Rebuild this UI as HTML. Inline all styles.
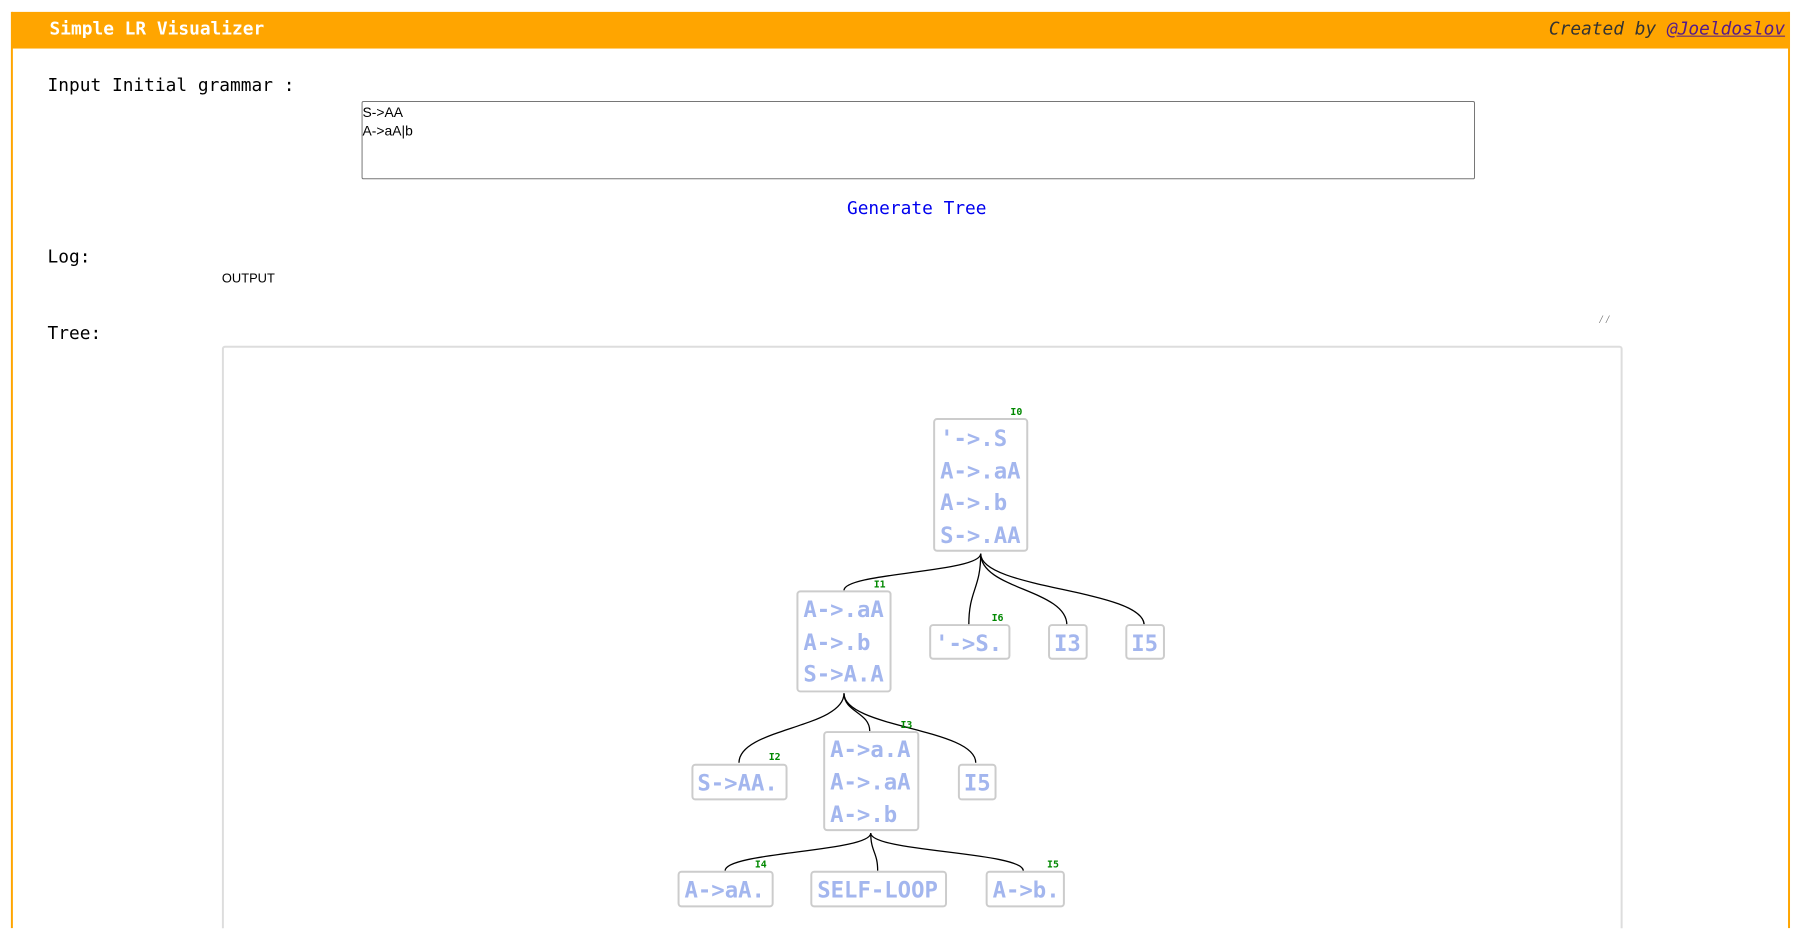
<!DOCTYPE html>
<html style="height:929px;overflow:hidden"><head><meta charset="utf-8"><style>
html,body{margin:0;width:1816px;height:929px;overflow:hidden}
body{background:#fff;font-family:"DejaVu Sans Mono","Liberation Mono",monospace;position:relative}
.a{position:absolute;white-space:nowrap}
#w{position:absolute;left:0;top:0;width:1833px;height:937px;overflow:hidden;transform:scale(0.9906);transform-origin:0 0}
</style></head><body><div id="w">
<div class="a" style="left:12px;top:12px;width:1795px;height:37px;background:#ffa500"></div>
<div class="a" style="left:11px;top:12px;width:2px;height:925px;background:#ffa500"></div>
<div class="a" style="left:1805px;top:12px;width:2px;height:925px;background:#ffa500"></div>
<div class="a" style="left:50px;top:19px;color:#fff;font-weight:bold;font-size:18px">Simple LR Visualizer</div>
<div class="a" style="right:31px;top:19px;color:#333;font-style:italic;font-size:18px">Created by <span style="color:#551a8b;text-decoration:underline">@Joeldoslov</span></div>
<div class="a" style="left:48px;top:76px;font-size:18px;color:#000">Input Initial grammar :</div>
<div class="a" style="left:365px;top:102px;width:1122px;height:77px;border:1px solid #767676;border-radius:2px"></div>
<div class="a" style="left:366px;top:104px;font-family:'Liberation Sans',sans-serif;font-size:14px;line-height:19px;color:#000">S-&gt;AA<br>A-&gt;aA|b</div>
<div class="a" style="left:855px;top:200px;font-size:18px;color:#00e">Generate Tree</div>
<div class="a" style="left:48px;top:249px;font-size:18px">Log:</div>
<div class="a" style="left:224px;top:273px;font-family:'Liberation Sans',sans-serif;font-size:13px">OUTPUT</div>
<div class="a" style="left:48px;top:326px;font-size:18px">Tree:</div>
<div class="a" style="left:1613px;top:316px;color:#666;font-size:11px">⁄⁄</div>
<div class="a" style="left:224px;top:349px;width:1410px;height:620px;border:2px solid #ddd;border-radius:3px"></div>
<svg class="a" style="left:0;top:0" width="1833" height="937">
<g fill="none" stroke="#000" stroke-width="1.3">
<path d="M990,559 C990,578 852,578 852,596"/>
<path d="M990,559 C990,595 978,595 978,631"/>
<path d="M990,559 C990,595 1077,595 1077,631"/>
<path d="M990,559 C990,595 1155,595 1155,631"/>
<path d="M852,700 C852,735 746,735 746,770"/>
<path d="M852,700 C852,719 878,719 878,738"/>
<path d="M852,700 C852,735 985,735 985,770"/>
<path d="M879,841 C879,860 732,860 732,879"/>
<path d="M879,841 C879,860 886,860 886,879"/>
<path d="M879,841 C879,860 1033,860 1033,879"/>
</g>
<g fill="#fff" stroke="#ccc" stroke-width="2">
<rect x="943" y="423" width="94" height="133" rx="3"/>
<rect x="805" y="597" width="94" height="101" rx="3"/>
<rect x="939" y="631" width="80" height="34" rx="3"/>
<rect x="1059" y="631" width="38" height="34" rx="3"/>
<rect x="1137" y="631" width="38" height="34" rx="3"/>
<rect x="699" y="772" width="95" height="35" rx="3"/>
<rect x="832" y="739" width="95" height="99" rx="3"/>
<rect x="968" y="772" width="37" height="35" rx="3"/>
<rect x="685" y="880" width="95" height="35" rx="3"/>
<rect x="819" y="880" width="136" height="35" rx="3"/>
<rect x="996" y="880" width="78" height="35" rx="3"/>
</g>
<g fill="#a3b6ee" font-family="DejaVu Sans Mono,monospace" font-weight="bold" font-size="22.5">
<text x="949" y="450">'-&gt;.S</text><text x="949" y="483">A-&gt;.aA</text><text x="949" y="515">A-&gt;.b</text><text x="949" y="548">S-&gt;.AA</text>
<text x="811" y="623">A-&gt;.aA</text><text x="811" y="656">A-&gt;.b</text><text x="811" y="688">S-&gt;A.A</text>
<text x="944" y="657">'-&gt;S.</text><text x="1064" y="657">I3</text><text x="1142" y="657">I5</text>
<text x="704" y="798">S-&gt;AA.</text>
<text x="838" y="764">A-&gt;a.A</text><text x="838" y="797">A-&gt;.aA</text><text x="838" y="830">A-&gt;.b</text>
<text x="973" y="798">I5</text>
<text x="691" y="906">A-&gt;aA.</text><text x="825" y="906">SELF-LOOP</text><text x="1002" y="906">A-&gt;b.</text>
</g>
<g fill="#080" font-family="DejaVu Sans Mono,monospace" font-weight="bold" font-size="10">
<text x="1020" y="419">I0</text><text x="882" y="593">I1</text><text x="1001" y="627">I6</text>
<text x="776" y="767">I2</text><text x="909" y="735">I3</text><text x="762" y="876">I4</text><text x="1057" y="876">I5</text>
</g>
</svg>
</div></body></html>
